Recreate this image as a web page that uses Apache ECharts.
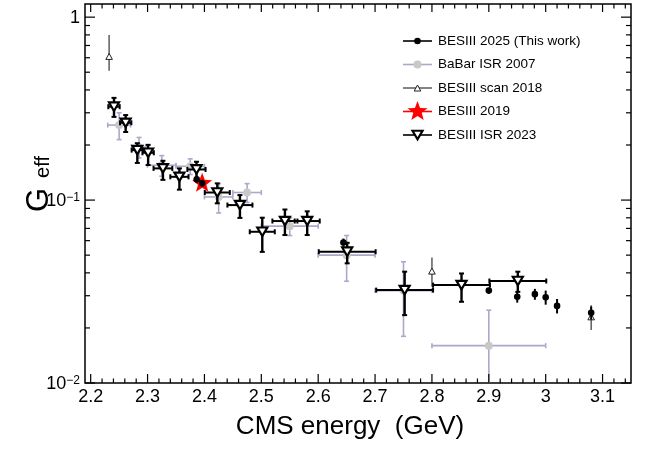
<!DOCTYPE html>
<html><head><meta charset="utf-8">
<script src="https://cdn.jsdelivr.net/npm/echarts@6/dist/echarts.min.js"></script>
<style>html,body{margin:0;padding:0;background:#fff}#c{width:649px;height:449px}</style>
</head><body><div id="c"></div>
<script>
// ---------------- data ----------------
// BESIII 2025 (This work)
const thisWorkX   = [2.3864, 2.3960, 2.6444, 2.9000, 2.9500, 2.9810, 3.0000, 3.0200, 3.0800];
const thisWorkY   = [0.1300, 0.1234, 0.0586, 0.0320, 0.0296, 0.0306, 0.0294, 0.0264, 0.0242];
const thisWorkErr = [0.0060, 0.0050, 0.0030, 0.0012, 0.0021, 0.0021, 0.0026, 0.0024, 0.0020];

// BaBar ISR 2007
const babarX    = [2.250, 2.285, 2.325, 2.375, 2.425, 2.475, 2.550, 2.650, 2.750, 2.900];
const babarXErr = [0.020, 0.0125, 0.025, 0.025, 0.025, 0.025, 0.050, 0.050, 0.050, 0.100];
const babarY    = [0.257, 0.195, 0.155, 0.153, 0.104, 0.110, 0.072, 0.050, 0.032, 0.016];
const babarYErr = [0.043, 0.025, 0.020, 0.015, 0.019, 0.013, 0.008, 0.014, 0.014, 0.009];

// BESIII scan 2018
const scanX     = [2.2324, 2.8000, 3.0800];
const scanY     = [0.610, 0.0409, 0.0230];
const scanErrLo = [0.100, 0.0073, 0.0035];
const scanErrHi = [0.190, 0.0077, 0.0036];

// BESIII 2019
const b2019X = [2.3960];
const b2019Y = [0.1234];

// BESIII ISR 2023
const isrX     = [2.241, 2.2615, 2.282, 2.301, 2.327, 2.356, 2.386, 2.4226, 2.4624, 2.5017, 2.5415, 2.5807, 2.651, 2.752, 2.852, 2.951];
const isrXErr  = [0.010, 0.010, 0.010, 0.010, 0.0165, 0.016, 0.016, 0.022, 0.022, 0.022, 0.022, 0.022, 0.050, 0.050, 0.050, 0.050];
const isrY     = [0.324, 0.2645, 0.1876, 0.1814, 0.149, 0.134, 0.147, 0.110, 0.0939, 0.0671, 0.0768, 0.0768, 0.0522, 0.0322, 0.0343, 0.0361];
const isrErrLo = [0.039, 0.029, 0.028, 0.026, 0.020, 0.020, 0.018, 0.014, 0.014, 0.015, 0.0124, 0.0124, 0.0071, 0.0087, 0.0065, 0.0046];
const isrErrHi = [0.038, 0.027, 0.017, 0.019, 0.015, 0.015, 0.015, 0.0134, 0.0126, 0.013, 0.012, 0.010, 0.0062, 0.0084, 0.0054, 0.0045];

// axes
const xTickLabels = ['2.2', '2.3', '2.4', '2.5', '2.6', '2.7', '2.8', '2.9', '3', '3.1'];
const yTickValues = [0.01, 0.1, 1];
const yTickLabels = ['10{s|\u22122}', '10{s|\u22121}', '1'];
const X_MIN = 2.19, X_MAX = 3.15, Y_MIN = 0.01, Y_MAX = 1.18;

const legendNames = ['BESIII 2025 (This work)', 'BaBar ISR 2007', 'BESIII scan 2018', 'BESIII 2019', 'BESIII ISR 2023'];

// ---------------- helpers ----------------
const FONT = '"Liberation Sans", Arial, Helvetica, sans-serif';
function rows(xs, ys, xe, lo, hi) {
  return xs.map((x, i) => [x, ys[i], xe ? xe[i] : 0, lo ? lo[i] : 0, hi ? hi[i] : 0]);
}
function ln(x1, y1, x2, y2, stroke, w) {
  return { type: 'line', shape: { x1, y1, x2, y2 }, style: { stroke, lineWidth: w } };
}
function marker(st, cx, cy) {
  const m = st.marker;
  if (m === 'dot') return { type: 'circle', shape: { cx, cy, r: st.r }, style: { fill: st.fill } };
  if (m === 'triUp' || m === 'triDown') {
    const w = st.w, h = st.h, s = m === 'triUp' ? 1 : -1;
    return { type: 'polygon', shape: { points: [[cx, cy - s * h / 2], [cx - w, cy + s * h / 2], [cx + w, cy + s * h / 2]] },
      style: { fill: st.fill, stroke: st.stroke, lineWidth: st.lw, lineJoin: 'miter' } };
  }
  if (m === 'star') {
    const pts = [];
    for (let k = 0; k < 10; k++) {
      const a = -Math.PI / 2 + k * Math.PI / 5, rr = k % 2 === 0 ? st.R : st.R * 0.42;
      pts.push([cx + rr * Math.cos(a), cy + rr * Math.sin(a)]);
    }
    return { type: 'polygon', shape: { points: pts }, style: { fill: st.fill } };
  }
}
function errRender(st) {
  return function (params, api) {
    const x = api.value(0), y = api.value(1), xe = api.value(2), lo = api.value(3), hi = api.value(4);
    const c = api.coord([x, y]);
    const ch = [];
    if (xe > 0) {
      const l = api.coord([x - xe, y])[0], r = api.coord([x + xe, y])[0];
      ch.push(ln(l, c[1], r, c[1], st.bar, st.barW));
      if (st.cap) { ch.push(ln(l, c[1] - st.cap, l, c[1] + st.cap, st.bar, st.barW)); ch.push(ln(r, c[1] - st.cap, r, c[1] + st.cap, st.bar, st.barW)); }
    }
    if (hi > 0 || lo > 0) {
      const t = api.coord([x, y + hi])[1], b = api.coord([x, Math.max(y - lo, 1e-6)])[1];
      ch.push(ln(c[0], t, c[0], b, st.bar, st.barVW || st.barW));
      if (st.cap) { ch.push(ln(c[0] - st.cap, t, c[0] + st.cap, t, st.bar, st.barW)); ch.push(ln(c[0] - st.cap, b, c[0] + st.cap, b, st.bar, st.barW)); }
    }
    ch.push(marker(st, c[0], c[1]));
    return { type: 'group', children: ch };
  };
}

const S_THIS  = { marker: 'dot', r: 3.3, fill: '#000', bar: '#000', barW: 2 };
const S_BABAR = { marker: 'dot', r: 4, fill: '#c8c8c8', bar: '#a9a9cb', barW: 1.6, cap: 2.5 };
const S_SCAN  = { marker: 'triUp', w: 3.3, h: 6, fill: '#fff', stroke: '#222', lw: 1, bar: '#666', barW: 1.6 };
const S_2019  = { marker: 'star', R: 10.5, fill: '#ff0000' };
const S_ISR   = { marker: 'triDown', w: 5, h: 8.5, fill: '#fff', stroke: '#000', lw: 2.2, bar: '#000', barW: 2, barVW: 2.4, cap: 2.5 };

function ticksRender(params, api) {
  const cs = params.coordSys;
  const L = cs.x, R = cs.x + cs.width, T = cs.y, B = cs.y + cs.height;
  const ch = [];
  const K = '#000', W = 1.2;
  const xMajor = xTickLabels.map(Number);
  xMajor.forEach(v => {
    const p = api.coord([v, 0.1])[0];
    ch.push(ln(p, B, p, B - 9, K, W), ln(p, T, p, T + 8, K, W));
  });
  for (let i = 0; i <= 48; i++) {
    const v = 2.2 + i * 0.02;
    if (i % 5 === 0 || v > X_MAX) continue;
    const p = api.coord([v, 0.1])[0];
    ch.push(ln(p, B, p, B - 4.5, K, W), ln(p, T, p, T + 4.5, K, W));
  }
  yTickValues.forEach((v, i) => {
    const p = api.coord([2.5, v])[1];
    ch.push(ln(L, p, L + 10, p, K, W), ln(R, p, R - 10, p, K, W));
    ch.push({ type: 'text', x: L - 5, y: p + 1, style: { text: yTickLabels[i], align: 'right', verticalAlign: 'middle',
      fill: '#000', font: '18px ' + FONT,
      rich: { s: { fontSize: 12, lineHeight: 12, verticalAlign: 'top', fontFamily: FONT } } } });
  });
  yTickValues.forEach(d => {
    for (let k = 2; k <= 9; k++) {
      const v = k * d;
      if (v > Y_MAX) continue;
      const p = api.coord([2.5, v])[1];
      ch.push(ln(L, p, L + 5, p, K, W), ln(R, p, R - 5, p, K, W));
    }
  });
  return { type: 'group', children: ch };
}

// legend drawn as graphics
const legendGraphics = [];
const LX0 = 403, LX1 = 432, LTX = 438, LY0 = 41, LDY = 23.5;
const legendStyles = [S_THIS, S_BABAR, S_SCAN, S_2019, S_ISR];
const legendLine = ['#000', '#a9a9cb', '#666', '#ff0000', '#000'];
legendNames.forEach((n, i) => {
  const y = LY0 + i * LDY, cx = (LX0 + LX1) / 2;
  const st = legendStyles[i];
  const children = [ln(LX0, y, LX1, y, legendLine[i], 1.6), marker(st, cx, y)];
  children.push({ type: 'text', x: LTX, y: y, style: { text: n, fill: '#000', font: '13.5px ' + FONT, verticalAlign: 'middle', align: 'left' } });
  legendGraphics.push({ type: 'group', children });
});

const option = {
  animation: false,
  backgroundColor: '#fff',
  grid: { left: 85, right: 18, top: 4, bottom: 66, show: true, borderColor: '#000', borderWidth: 1.5, backgroundColor: 'transparent' },
  xAxis: {
    type: 'value', min: X_MIN, max: X_MAX,
    axisLine: { show: false }, axisTick: { show: false }, splitLine: { show: false },
    axisLabel: { customValues: xTickLabels.map(Number), formatter: v => String(+(+v).toFixed(2)),
      fontSize: 18, fontFamily: FONT, color: '#000', margin: 5 }
  },
  yAxis: {
    type: 'log', logBase: 10, min: Y_MIN, max: Y_MAX,
    axisLine: { show: false }, axisTick: { show: false }, splitLine: { show: false }, axisLabel: { show: false }
  },
  graphic: [
    { type: 'text', x: 350, y: 427, style: { text: 'CMS energy  (GeV)', font: '26px ' + FONT, fill: '#000', align: 'center', verticalAlign: 'middle' } },
    { type: 'text', x: 39, y: 200, rotation: Math.PI / 2, style: { text: 'G', font: '31px ' + FONT, fill: '#000', align: 'center', verticalAlign: 'middle' } },
    { type: 'text', x: 43, y: 167, rotation: Math.PI / 2, style: { text: 'eff', font: '20px ' + FONT, fill: '#000', align: 'center', verticalAlign: 'middle' } }
  ].concat(legendGraphics),
  series: [
    { name: 'BaBar ISR 2007', type: 'custom', z: 2, clip: true, silent: true, renderItem: errRender(S_BABAR), encode: { x: 0, y: 1 },
      data: rows(babarX, babarY, babarXErr, babarYErr, babarYErr) },
    { name: 'BESIII scan 2018', type: 'custom', z: 3, clip: true, silent: true, renderItem: errRender(S_SCAN), encode: { x: 0, y: 1 },
      data: rows(scanX, scanY, null, scanErrLo, scanErrHi) },
    { name: 'BESIII ISR 2023', type: 'custom', z: 4, clip: true, silent: true, renderItem: errRender(S_ISR), encode: { x: 0, y: 1 },
      data: rows(isrX, isrY, isrXErr, isrErrLo, isrErrHi) },
    { name: 'BESIII 2019', type: 'custom', z: 5, clip: true, silent: true, renderItem: errRender(S_2019), encode: { x: 0, y: 1 },
      data: rows(b2019X, b2019Y, null, null, null) },
    { name: 'BESIII 2025 (This work)', type: 'custom', z: 6, clip: true, silent: true, renderItem: errRender(S_THIS), encode: { x: 0, y: 1 },
      data: rows(thisWorkX, thisWorkY, null, thisWorkErr, thisWorkErr) },
    { name: 'ticks', type: 'custom', z: 10, clip: false, silent: true, renderItem: ticksRender, encode: { x: 0, y: 1 },
      data: [[2.5, 0.1]] }
  ]
};
const chart = echarts.init(document.getElementById('c'));
chart.setOption(option);
</script></body></html>
